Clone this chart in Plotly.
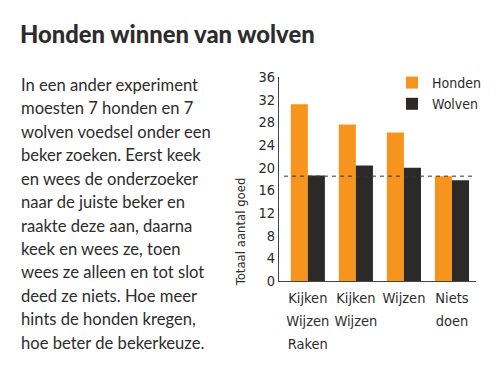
import plotly.graph_objects as go

# ---- data ----
categories = ["Kijken Wijzen Raken", "Kijken Wijzen", "Wijzen", "Niets doen"]
tick_lines = [["Kijken", "Wijzen", "Raken"], ["Kijken", "Wijzen"], ["Wijzen"], ["Niets", "doen"]]
honden = [31.2, 27.6, 26.2, 18.5]
wolven = [18.6, 20.4, 20.0, 17.8]
chance_level = 18.5
y_ticks = [0, 4, 8, 12, 16, 20, 24, 28, 32, 36]

title_text = "Honden winnen van wolven"
body_lines = [
    "In een ander experiment",
    "moesten 7 honden en 7",
    "wolven voedsel onder een",
    "beker zoeken. Eerst keek",
    "en wees de onderzoeker",
    "naar de juiste beker en",
    "raakte deze aan, daarna",
    "keek en wees ze, toen",
    "wees ze alleen en tot slot",
    "deed ze niets. Hoe meer",
    "hints de honden kregen,",
    "hoe beter de bekerkeuze.",
]
y_title = "Totaal aantal goed"

ORANGE = "#F7941D"
DARK = "#2B2A29"
TEXT = "#2E2C2D"
NARROW = "Liberation Sans Narrow, DejaVu Sans Condensed, Arial Narrow, sans-serif"
BODY = "Lato, Open Sans, sans-serif"
TITLE = "Lato, sans-serif"

W, H = 500, 390
OFF = 8  # page body margin offset
# plot area in screen pixels
PL, PR, PT, PB = 279, 476, 77, 280.7
pw, ph = PR - PL, PB - PT


def px(xs):
    return (xs - PL) / pw


def py(ys):
    return (PB - ys) / ph


fig = go.Figure()
fig.add_bar(x=categories, y=honden, name="Honden", marker=dict(color=ORANGE, line=dict(width=0)))
fig.add_bar(x=categories, y=wolven, name="Wolven", marker=dict(color=DARK, line=dict(width=0)))

ticktext = [
    "<br>".join(f"<span style='font-size:14.5px'>{w}</span>" for w in lines)
    for lines in tick_lines
]

fig.update_layout(
    width=W, height=H,
    margin=dict(l=PL - OFF, r=W + OFF - PR, t=PT - OFF, b=H + OFF - PB, pad=0,
                autoexpand=False),
    paper_bgcolor="white", plot_bgcolor="white",
    barmode="group", bargap=0.29, bargroupgap=0,
    showlegend=True,
    legend=dict(x=px(392), y=py(67), xanchor="left", yanchor="top",
                font=dict(family=NARROW, size=14, color=TEXT),
                tracegroupgap=0,
                bgcolor="rgba(0,0,0,0)", itemclick=False),
    xaxis=dict(range=[-0.6, 3.5], showline=True, linecolor="#444", linewidth=1,
               ticks="", tickmode="array", tickvals=categories, ticktext=ticktext,
               tickfont=dict(family=NARROW, size=17.7, color=TEXT), showgrid=False,
               zeroline=False),
    yaxis=dict(range=[0, 36], tickvals=y_ticks, showline=True, linecolor="#444",
               linewidth=1, ticks="", showgrid=False, zeroline=False,
               tickfont=dict(family=NARROW, size=14.5, color=TEXT)),
    font=dict(family=NARROW, color=TEXT),
)

# chance level dashed line
fig.add_shape(type="line", xref="paper", yref="y", x0=px(284), x1=1,
              y0=chance_level, y1=chance_level,
              line=dict(color="#333", width=1, dash="4px,4px"))

# y axis title
fig.add_annotation(text=y_title, xref="paper", yref="paper", x=px(240), y=py(232),
                   textangle=-90, showarrow=False, xanchor="center", yanchor="middle",
                   font=dict(family=NARROW, size=13, color=TEXT))

# title
fig.add_annotation(text=title_text, xref="paper", yref="paper",
                   x=px(18), y=py(34), xanchor="left", yanchor="middle",
                   showarrow=False, font=dict(family=TITLE, size=23.8, color=TEXT, weight=900))

# body text
for i, line in enumerate(body_lines):
    baseline = 91 + i * 23.4
    fig.add_annotation(text=line, xref="paper", yref="paper",
                       x=px(19), y=py(baseline - 6), xanchor="left", yanchor="middle",
                       showarrow=False, font=dict(family=BODY, size=16.6, color=TEXT))

fig.write_html("out.html")
